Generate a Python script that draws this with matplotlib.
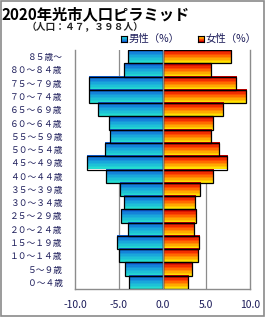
import numpy as np
import matplotlib
matplotlib.use('Agg')
import matplotlib.pyplot as plt
from matplotlib.colors import LinearSegmentedColormap, ListedColormap
from matplotlib.patches import Rectangle

plt.rcParams['font.family'] = ['Noto Sans CJK JP', 'DejaVu Sans']

# age groups, top to bottom
ages = ['８５歳～', '８０～８４歳', '７５～７９歳', '７０～７４歳', '６５～６９歳',
        '６０～６４歳', '５５～５９歳', '５０～５４歳', '４５～４９歳', '４０～４４歳',
        '３５～３９歳', '３０～３４歳', '２５～２９歳', '２０～２４歳', '１５～１９歳',
        '１０～１４歳', '５～９歳', '０～４歳']
male = [4.0, 4.45, 8.45, 8.35, 7.4, 6.15, 6.05, 6.6, 8.65, 6.5,
        4.9, 4.35, 4.7, 4.0, 5.25, 5.0, 4.25, 3.8]
female = [7.85, 5.55, 8.4, 9.55, 6.9, 5.8, 5.55, 6.45, 7.4, 5.8,
          4.3, 3.75, 3.85, 3.6, 4.2, 4.05, 3.4, 2.95]
xticks = [-10, -5, 0, 5, 10]

txt = '#1c1c5a'
grey = '#8c8c8c'

male_cm = ListedColormap(LinearSegmentedColormap.from_list(
    'm', ['#24dcd0', '#1aa8dc', '#1060d8'])(np.linspace(0, 1, 9)))
female_cm = ListedColormap(LinearSegmentedColormap.from_list(
    'f', ['#ffe000', '#ff9800', '#ff4000', '#c80000'])(np.linspace(0, 1, 9)))

fig = plt.figure(figsize=(2.7, 3.2), dpi=100)
fig.patches.append(Rectangle((1/270, 4/320), 263/270, 315/320, transform=fig.transFigure,
                             fill=False, edgecolor='#8a8a8a', lw=1.2))

ax = fig.add_axes([75/270, 31/320, 175/270, 239/320])
y = np.arange(len(ages))
grad = np.linspace(0, 1, 64).reshape(-1, 1)

mb = ax.barh(y, [-v for v in male], height=1.0, facecolor='none', edgecolor='black', lw=0.9, zorder=3)
fb = ax.barh(y, female, height=1.0, facecolor='none', edgecolor='black', lw=0.9, zorder=3)
for bars, cm in ((mb, male_cm), (fb, female_cm)):
    for p in bars:
        x0, y0 = p.get_x(), p.get_y()
        w, h = p.get_width(), p.get_height()
        ax.imshow(grad, cmap=cm, aspect='auto', origin='lower',
                  extent=[min(x0, x0 + w), max(x0, x0 + w), y0 + h, y0],
                  interpolation='nearest', zorder=2)

ax.axvline(0, color=grey, lw=1.0, zorder=4)
for gx in (-5, 5):
    ax.axvline(gx, color=grey, lw=0.9, zorder=1)

ax.set_xlim(-10, 10)
ax.set_ylim(len(ages) - 0.5, -0.5)
ax.set_yticks(y)
ax.set_yticklabels(ages, fontsize=6.3, color=txt)
ax.set_xticks(xticks)
ax.set_xticklabels(['%.1f' % v for v in xticks], fontsize=7.5, color=txt)
ax.tick_params(length=0)
ax.tick_params(axis='x', pad=8)
ax.tick_params(axis='y', pad=9)
ax.spines['top'].set_visible(False)
for s in ('left', 'right', 'bottom'):
    ax.spines[s].set_color(grey)
    ax.spines[s].set_linewidth(1.0)

fig.text(2/270, 1 - 14/320, '2020年光市人口ピラミッド', fontsize=11, fontweight='bold',
         va='center', ha='left')
fig.text(85/270, 1 - 27/320, '（人口：４７，３９８人）', fontsize=7, fontweight='bold',
         va='center', ha='center', color='#222222')

# legend
for sx, label, cm in ((121, '男性（%）', male_cm), (198, '女性（%）', female_cm)):
    lax = fig.add_axes([sx/270, 1 - 42/320, 6/270, 6/320])
    lax.imshow(grad, cmap=cm, aspect='auto', interpolation='nearest')
    lax.set_xticks([])
    lax.set_yticks([])
    for s in lax.spines.values():
        s.set_linewidth(0.8)
    fig.text((sx + 8)/270, 1 - 39/320, label, fontsize=7.5, color=txt, va='center', ha='left')

fig.savefig('out.png', dpi=100)
